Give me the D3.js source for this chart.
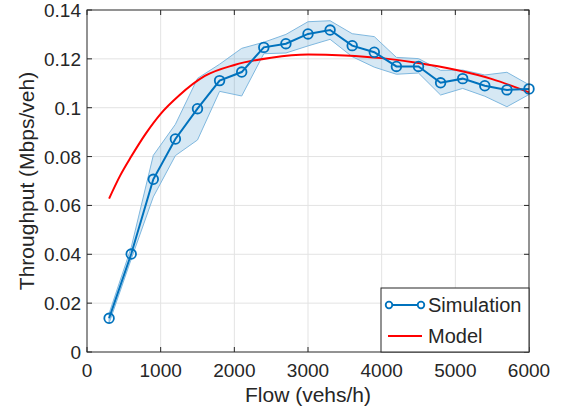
<!DOCTYPE html>
<html>
<head>
<meta charset="utf-8">
<script src="https://cdn.jsdelivr.net/npm/d3@7"></script>
<style>
  body { margin: 0; background: #fff; }
  svg text { font-family: "Liberation Sans", Arial, sans-serif; fill: #262626; }
</style>
</head>
<body>
<script>
// simulation data (flow in vehs/h, throughput in Mbps/veh)
const flows = [300, 600, 900, 1200, 1500, 1800, 2100, 2400, 2700, 3000, 3300, 3600, 3900, 4200, 4500, 4800, 5100, 5400, 5700, 6000];
const simMean = [0.0138, 0.0401, 0.0707, 0.0872, 0.0996, 0.1111, 0.1146, 0.1247, 0.1262, 0.1302, 0.1318, 0.1254, 0.1227, 0.1169, 0.1169, 0.1102, 0.1119, 0.1090, 0.1073, 0.1077];
const simUpper = [0.0158, 0.0428, 0.0805, 0.0932, 0.1120, 0.1178, 0.1243, 0.1268, 0.1300, 0.1352, 0.1356, 0.1303, 0.1291, 0.1206, 0.1201, 0.1153, 0.1154, 0.1134, 0.1145, 0.1094];
const simLower = [0.0118, 0.0380, 0.0635, 0.0804, 0.0868, 0.1067, 0.1048, 0.1221, 0.1224, 0.1253, 0.1280, 0.1209, 0.1166, 0.1137, 0.1142, 0.1052, 0.1079, 0.1047, 0.1004, 0.1054];

// model curve
const modelFlow = [300, 450, 600, 800, 1000, 1250, 1600, 2000, 2500, 3000, 3500, 4000, 4500, 5000, 5500, 6000];
const modelVal = [0.0628, 0.0722, 0.0800, 0.0895, 0.0975, 0.1050, 0.1130, 0.1175, 0.1205, 0.1218, 0.1214, 0.1203, 0.1183, 0.1155, 0.1117, 0.1063];

const xTicks = [0, 1000, 2000, 3000, 4000, 5000, 6000];
const yTicks = [0, 0.02, 0.04, 0.06, 0.08, 0.1, 0.12, 0.14];

const width = 566, height = 410;
const margin = {top: 10, right: 37, bottom: 58, left: 87};

const svg = d3.select("body").append("svg")
    .attr("width", width)
    .attr("height", height);

const x = d3.scaleLinear().domain([0, 6000]).range([margin.left, width - margin.right]);
const y = d3.scaleLinear().domain([0, 0.14]).range([height - margin.bottom, margin.top]);

const x0 = x(0), x1 = x(6000), y0 = y(0), y1 = y(0.14);

// grid
svg.append("g").selectAll("line").data(xTicks.slice(1, -1)).join("line")
    .attr("x1", d => x(d)).attr("x2", d => x(d))
    .attr("y1", y0).attr("y2", y1)
    .attr("stroke", "#e3e3e3").attr("stroke-width", 1);
svg.append("g").selectAll("line").data(yTicks.slice(1, -1)).join("line")
    .attr("x1", x0).attr("x2", x1)
    .attr("y1", d => y(d)).attr("y2", d => y(d))
    .attr("stroke", "#e3e3e3").attr("stroke-width", 1);

const sim = flows.map((f, i) => ({f, m: simMean[i], hi: simUpper[i], lo: simLower[i]}));

// shaded band
svg.append("path")
    .datum(sim)
    .attr("d", d3.area().x(d => x(d.f)).y0(d => y(d.lo)).y1(d => y(d.hi)))
    .attr("fill", "#0072bd").attr("fill-opacity", 0.16)
    .attr("stroke", "#7fb8df").attr("stroke-width", 1);

// model
const model = modelFlow.map((f, i) => ({f, v: modelVal[i]}));
svg.append("path")
    .datum(model)
    .attr("d", d3.line().x(d => x(d.f)).y(d => y(d.v)).curve(d3.curveMonotoneX))
    .attr("fill", "none").attr("stroke", "#ff0000").attr("stroke-width", 2);

// simulation line + markers
svg.append("path")
    .datum(sim)
    .attr("d", d3.line().x(d => x(d.f)).y(d => y(d.m)))
    .attr("fill", "none").attr("stroke", "#0072bd").attr("stroke-width", 2);
svg.append("g").selectAll("circle").data(sim).join("circle")
    .attr("cx", d => x(d.f)).attr("cy", d => y(d.m)).attr("r", 4.8)
    .attr("fill", "none").attr("stroke", "#0072bd").attr("stroke-width", 1.8);

// axes box with inward ticks
const axisColor = "#262626";
const tickLen = 5;
const ax = svg.append("g");
ax.append("rect").attr("x", x0).attr("y", y1).attr("width", x1 - x0).attr("height", y0 - y1)
    .attr("fill", "none").attr("stroke", axisColor).attr("stroke-width", 1);
ax.selectAll(".xt").data(xTicks).join("path").attr("class", "xt")
    .attr("d", d => `M${x(d)},${y0}v${-tickLen}M${x(d)},${y1}v${tickLen}`)
    .attr("stroke", axisColor);
ax.selectAll(".yt").data(yTicks).join("path").attr("class", "yt")
    .attr("d", d => `M${x0},${y(d)}h${tickLen}M${x1},${y(d)}h${-tickLen}`)
    .attr("stroke", axisColor);

ax.selectAll(".xl").data(xTicks).join("text").attr("class", "xl")
    .attr("x", d => x(d)).attr("y", y0 + 25)
    .attr("text-anchor", "middle").attr("font-size", 19)
    .text(d => d);
ax.selectAll(".yl").data(yTicks).join("text").attr("class", "yl")
    .attr("x", x0 - 6).attr("y", d => y(d) + 7)
    .attr("text-anchor", "end").attr("font-size", 19)
    .text(d => d);

svg.append("text")
    .attr("x", (x0 + x1) / 2).attr("y", 402)
    .attr("text-anchor", "middle").attr("font-size", 21)
    .text("Flow (vehs/h)");
svg.append("text")
    .attr("transform", `translate(34,${(y0 + y1) / 2}) rotate(-90)`)
    .attr("text-anchor", "middle").attr("font-size", 21)
    .text("Throughput (Mbps/veh)");

// legend
const lg = svg.append("g");
lg.append("rect").attr("x", 381).attr("y", 288).attr("width", x1 - 381).attr("height", y0 - 288)
    .attr("fill", "#fff").attr("stroke", axisColor);
lg.append("line").attr("x1", 389).attr("x2", 421).attr("y1", 305).attr("y2", 305)
    .attr("stroke", "#0072bd").attr("stroke-width", 2);
lg.selectAll("circle").data([389, 421]).join("circle")
    .attr("cx", d => d).attr("cy", 305).attr("r", 3.3)
    .attr("fill", "#fff").attr("stroke", "#0072bd").attr("stroke-width", 1.8);
lg.append("text").attr("x", 428).attr("y", 312).attr("font-size", 20).text("Simulation");
lg.append("line").attr("x1", 388).attr("x2", 422).attr("y1", 336).attr("y2", 336)
    .attr("stroke", "#ff0000").attr("stroke-width", 2);
lg.append("text").attr("x", 428).attr("y", 343).attr("font-size", 20).text("Model");
</script>
</body>
</html>
